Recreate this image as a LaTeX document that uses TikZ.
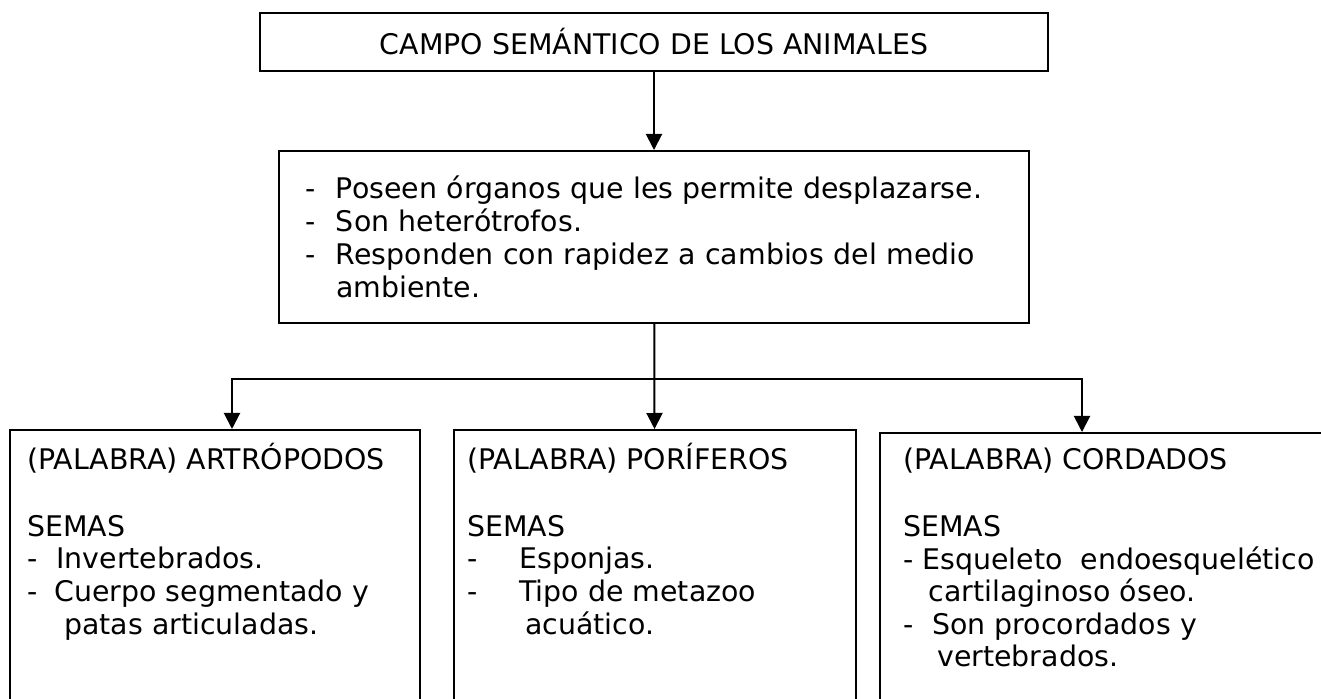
\documentclass[tikz,border=0pt]{standalone}
\usepackage{fontspec}
\setmainfont{DejaVu Sans}
\usetikzlibrary{arrows.meta,positioning}

\tikzset{
  caja/.style={draw, line width=1pt, inner sep=0pt},
  letra/.style={font=\fontsize{14.2pt}{16.3pt}\selectfont},
  texto/.style={letra, align=left, inner sep=0pt},
  flecha/.style={line width=1pt, -{Triangle[width=8pt,length=8pt]}}
}
\newcommand{\guion}[2]{\makebox[#1][l]{-}#2}

\begin{document}
\begin{tikzpicture}[x=0.5pt, y=-0.5pt]
\useasboundingbox (0,0) rectangle (1321,699);
% cabecera y rasgos comunes
\node[caja, letra, minimum width=394pt, minimum height=29pt] (titulo) at (654,42) {CAMPO SEMÁNTICO DE LOS ANIMALES};
\node[caja, texto, font=\fontsize{14.2pt}{16.6pt}\selectfont, text width=349pt, inner xsep=13pt, minimum height=86pt] (rasgos) at (654,237) {%
  \guion{15.5pt}{Poseen órganos que les permite desplazarse.}\\
  \guion{15.5pt}{Son heterótrofos.}\\
  \guion{15.5pt}{\makebox[334pt][s]{Responden con rapidez a cambios del medio}}\\
  \hspace*{15.5pt}ambiente.};
% cajas de las palabras
\node[caja, minimum width=205pt, minimum height=170pt, anchor=north west] (artro) at (9,429) {};
\node[caja, minimum width=201pt, minimum height=170pt, anchor=north west] (pori) at (453,429) {};
\node[caja, minimum width=230pt, minimum height=170pt, anchor=north west] (cord) at (879,432) {};
\node[texto, below right=7pt and 9pt of artro.north west] (artroT) {%
  (PALABRA) ARTRÓPODOS\\[17pt]
  SEMAS\\
  \guion{14.5pt}{Invertebrados.}\\
  \guion{13.5pt}{Cuerpo segmentado y}\\
  \hspace*{18.5pt}patas articuladas.};
\node[texto, below right=7pt and 7pt of pori.north west] (poriT) {%
  (PALABRA) PORÍFEROS\\[17pt]
  SEMAS\\
  \guion{26pt}{Esponjas.}\\
  \guion{26pt}{Tipo de metazoo}\\
  \hspace*{29pt}acuático.};
\node[texto, below right=8pt and 12pt of cord.north west] (cordT) {%
  (PALABRA) CORDADOS\\[17pt]
  SEMAS\\
  \guion{9.5pt}{Esqueleto\ \ endoesquelético}\\
  \hspace*{12.5pt}cartilaginoso óseo.\\
  \guion{14.5pt}{Son procordados y}\\
  \hspace*{17pt}vertebrados.};
% conectores
\coordinate (ramaI) at (232,379);
\coordinate (ramaD) at (1082,379);
\draw[flecha] (titulo) -- (rasgos);
\draw[flecha] (rasgos) -- (pori);
\draw[flecha] (ramaD) -- (ramaI) -- (ramaI |- artro.north);
\draw[flecha] (ramaI) -- (ramaD) -- (ramaD |- cord.north);
\end{tikzpicture}
\end{document}
